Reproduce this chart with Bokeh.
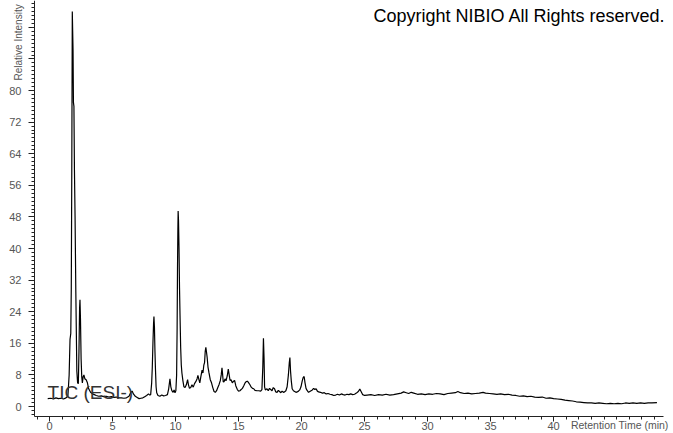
from bokeh.plotting import figure
from bokeh.models import Range1d, FixedTicker, Label
from bokeh.embed import file_html
from bokeh.resources import INLINE
import math

# Retention time (min)
time_min = [
    -0.15, 0.1, 0.3, 0.5, 0.7, 0.9, 1.1, 1.3, 1.45,
    1.55, 1.62, 1.68, 1.72, 1.76, 1.80, 1.83, 1.86, 1.89, 1.93, 1.97, 2.02, 2.08, 2.16, 2.22, 2.28,
    2.33, 2.38, 2.41, 2.45, 2.50, 2.55, 2.60, 2.66, 2.72, 2.80, 2.90, 3.00, 3.10, 3.25, 3.40, 3.55,
    3.7, 3.9, 4.1, 4.3, 4.5, 4.7, 4.9, 5.1, 5.3, 5.5, 5.7, 5.9, 6.1, 6.3, 6.45, 6.55, 6.65, 6.8,
    6.95, 7.1, 7.25, 7.4, 7.55, 7.7, 7.85, 7.95,
    8.02, 8.1, 8.15, 8.2, 8.25, 8.28, 8.32, 8.36, 8.4, 8.45, 8.5, 8.6, 8.75, 8.9, 9.05, 9.2, 9.35,
    9.45, 9.55, 9.62, 9.7, 9.8, 9.88, 9.95, 10.02,
    10.08, 10.12, 10.15, 10.18, 10.2, 10.23, 10.27, 10.31, 10.35, 10.4, 10.45, 10.5, 10.58, 10.66,
    10.75, 10.85, 10.95, 11.02, 11.1, 11.2, 11.3, 11.4, 11.5, 11.6, 11.7, 11.77, 11.85, 11.92, 12.0,
    12.1, 12.17, 12.24, 12.3, 12.35, 12.4, 12.45, 12.5, 12.57, 12.65, 12.75, 12.85, 12.95, 13.05,
    13.15, 13.25, 13.35, 13.45, 13.55, 13.62, 13.68, 13.72, 13.78, 13.85, 13.92, 14.0, 14.1, 14.18,
    14.25, 14.32, 14.4, 14.5, 14.6, 14.68, 14.78, 14.9, 15.0, 15.1, 15.2, 15.3, 15.4, 15.5, 15.6,
    15.7, 15.8, 15.9, 16.0, 16.1, 16.2, 16.3, 16.45, 16.6, 16.75, 16.85, 16.92, 16.97, 17.02, 17.06,
    17.12, 17.25, 17.35, 17.45, 17.55, 17.65, 17.75, 17.85, 17.95, 18.05, 18.15, 18.25, 18.35, 18.45,
    18.55, 18.65, 18.75, 18.85, 18.95, 19.02, 19.07, 19.12, 19.18, 19.25, 19.35, 19.45, 19.55, 19.65,
    19.75, 19.85, 19.95, 20.05, 20.12, 20.2, 20.27, 20.35, 20.45, 20.55, 20.65, 20.75, 20.85, 20.95,
    21.05, 21.15, 21.25, 21.35, 21.5, 21.65, 21.8, 21.95, 22.1, 22.25, 22.4, 22.55, 22.7, 22.85, 23.0,
    23.15, 23.3, 23.45, 23.6, 23.75, 23.9, 24.05, 24.2, 24.35, 24.5, 24.62, 24.72, 24.85, 25.0,
    25.2, 25.5, 25.8, 26.1, 26.4, 26.7, 27.0, 27.3, 27.6, 27.9, 28.1, 28.3, 28.5, 28.7, 28.9, 29.2,
    29.5, 29.8, 30.1, 30.4, 30.7, 31.0, 31.3, 31.6, 31.9, 32.2, 32.4, 32.6, 32.9, 33.2, 33.5, 33.8,
    34.1, 34.4, 34.6, 34.9, 35.2, 35.5, 35.8, 36.1, 36.4, 36.7, 37.0, 37.3, 37.6, 37.9, 38.2, 38.5,
    38.8, 39.1, 39.4, 39.7, 40.0, 40.3, 40.6, 40.9, 41.2, 41.5, 41.8, 42.1, 42.4, 42.7, 43.0, 43.3,
    43.6, 43.9, 44.2, 44.5, 44.8, 45.1, 45.4, 45.7, 46.0, 46.3, 46.6, 46.9, 47.2, 47.5, 47.8, 48.2,
]

# Relative intensity (%)
intensity = [
    2.0, 2.1, 1.9, 2.2, 2.0, 2.1, 1.9, 2.2, 2.6,
    8.0, 17.0, 18.5, 30.0, 60.0, 100.0, 95.0, 90.0, 77.0, 76.0, 60.0, 48.0, 29.0, 9.0, 6.0, 5.8,
    14.0, 25.0, 27.0, 22.0, 12.0, 7.5, 6.0, 7.5, 8.0, 7.0, 6.8, 6.0, 4.5, 3.6, 3.2, 3.0,
    2.8, 2.6, 2.7, 2.5, 2.6, 2.4, 2.5, 2.3, 2.4, 2.2, 2.2, 2.1, 2.2, 2.6, 3.6, 3.9, 3.2, 2.6,
    2.3, 2.0, 2.1, 2.2, 2.5, 2.8, 3.2, 2.9,
    3.0, 6.0, 10.0, 16.0, 21.0, 22.8, 20.0, 14.0, 9.5, 5.0, 3.5, 2.8, 2.6, 2.9, 2.7, 2.8, 3.0,
    4.5, 7.0, 5.0, 4.0, 3.6, 4.2, 3.5, 4.0,
    8.0, 20.0, 35.0, 45.0, 49.5, 47.0, 40.0, 30.0, 23.0, 15.0, 10.5, 8.5, 6.5, 5.0,
    4.8, 5.5, 6.8, 5.5, 4.6, 4.8, 5.5, 4.9, 5.8, 6.3, 7.0, 7.9, 6.8, 6.0, 7.5,
    9.2, 8.5, 10.5, 11.2, 14.0, 15.0, 13.8, 12.5, 10.0, 8.5, 6.8, 6.0, 4.8, 3.8,
    3.6, 4.0, 4.8, 5.6, 6.6, 8.0, 9.8, 8.5, 6.2, 6.3, 7.0, 6.5, 7.8, 9.5,
    8.0, 6.6, 6.8, 6.0, 6.4, 6.6, 5.2, 4.3, 3.9, 4.0, 4.3, 4.6, 5.2, 5.9, 6.3,
    6.4, 6.0, 5.5, 4.9, 4.6, 4.5, 4.1, 4.0, 4.0, 3.9, 4.3, 10.0, 17.3, 12.0, 5.0,
    4.2, 4.5, 4.0, 4.6, 4.3, 4.0, 4.8, 4.5, 3.7, 3.6, 4.1, 3.8, 3.5, 3.9,
    3.6, 3.7, 4.0, 5.0, 8.0, 11.0, 12.4, 9.0, 6.5, 4.5, 4.0, 3.8, 3.6, 3.7,
    3.9, 4.2, 5.0, 6.5, 7.3, 7.6, 6.0, 4.6, 4.0, 3.6, 3.8, 4.0, 4.2, 4.6,
    4.3, 4.5, 3.9, 3.7, 3.6, 3.4, 3.5, 3.2, 3.3, 3.1, 3.0, 2.8, 2.9, 3.1, 2.9,
    3.2, 3.0, 2.9, 3.1, 3.0, 3.2, 3.0, 3.1, 3.4, 3.8, 4.4, 3.8, 3.0, 2.8,
    2.9, 3.0, 2.8, 3.0, 2.9, 3.1, 2.9, 3.0, 3.2, 3.4, 3.7, 3.5, 3.3, 3.6, 3.4, 3.1,
    3.2, 3.0, 3.2, 3.1, 3.3, 3.2, 3.0, 3.3, 3.4, 3.5, 3.8, 3.5, 3.3, 3.4, 3.2, 3.3,
    3.4, 3.6, 3.4, 3.3, 3.2, 3.1, 3.2, 3.0, 3.1, 2.9, 2.8, 2.6, 2.7, 2.5, 2.6, 2.4,
    2.3, 2.4, 2.1, 2.2, 2.0, 1.9, 1.8, 1.6, 1.5, 1.4, 1.2, 1.1, 1.0, 0.9, 0.9, 0.8,
    0.9, 0.8, 0.7, 0.8, 0.7, 0.8, 0.7, 0.9, 0.8, 0.9, 0.8, 0.9, 0.8, 0.9, 0.9, 1.0,
]

x_major_ticks = [0, 5, 10, 15, 20, 25, 30, 35, 40]
x_minor_ticks = [float(i) for i in range(-1, 49)]
y_major_ticks = [0, 8, 16, 24, 32, 40, 48, 56, 64, 72, 80, 88, 96]
y_minor_ticks = [float(i) for i in range(-2, 103)]
y_hidden_labels = [88, 96]

FONT = "Liberation Sans"
GREY = "#555555"

X_AXIS_START, X_AXIS_END = -1.2, 48.73
Y_AXIS_START, Y_AXIS_END = -2.53, 102.8

p = figure(width=673, height=433,
           x_range=Range1d(-3.898, 49.514), y_range=Range1d(-6.83, 102.8),
           output_backend="svg", toolbar_location=None,
           min_border_left=0, min_border_right=0, min_border_top=0, min_border_bottom=0)

p.outline_line_color = None
p.xgrid.visible = False
p.ygrid.visible = False
p.background_fill_color = "white"
p.border_fill_color = "white"

p.line(time_min, intensity, line_color="black", line_width=1.2)

for ax in (p.xaxis[0], p.yaxis[0]):
    ax.axis_line_color = "#222222"
    ax.major_tick_line_color = "#222222"
    ax.minor_tick_line_color = "#222222"
    ax.major_tick_in = 0
    ax.minor_tick_in = 0
    ax.minor_tick_out = 3
    ax.major_label_text_font = FONT
    ax.major_label_text_font_size = "11px"
    ax.major_label_text_color = GREY

xa = p.xaxis[0]
xa.ticker = FixedTicker(ticks=x_major_ticks, minor_ticks=x_minor_ticks)
xa.fixed_location = Y_AXIS_START
xa.bounds = (X_AXIS_START, X_AXIS_END)
xa.major_tick_out = 5
xa.major_label_standoff = 0

ya = p.yaxis[0]
ya.ticker = FixedTicker(ticks=y_major_ticks, minor_ticks=y_minor_ticks)
ya.fixed_location = X_AXIS_START
ya.bounds = (Y_AXIS_START, Y_AXIS_END)
ya.major_tick_out = 6
ya.major_label_standoff = 7
ya.major_label_overrides = {v: "" for v in y_hidden_labels}

p.add_layout(Label(x=49.12, y=-4.6, text="Retention Time (min)", text_align="right",
                   text_baseline="alphabetic", text_font=FONT, text_font_size="10.5px",
                   text_color=GREY))
p.add_layout(Label(x=-2.5, y=82.55, text="Relative Intensity", angle=math.pi / 2,
                   text_align="left", text_baseline="alphabetic", text_font=FONT,
                   text_font_size="10px", text_color=GREY))
p.add_layout(Label(x=48.88, y=99.0, text="Copyright NIBIO All Rights reserved.",
                   text_align="right", text_baseline="alphabetic", text_font=FONT,
                   text_font_size="18px", text_color="black"))
p.add_layout(Label(x=-0.16, y=3.5, text="TIC (ESI-)", text_align="left",
                   text_baseline="alphabetic", text_font=FONT, text_font_size="19px",
                   text_color="#333333"))

open("out.html", "w").write(file_html(p, INLINE))
